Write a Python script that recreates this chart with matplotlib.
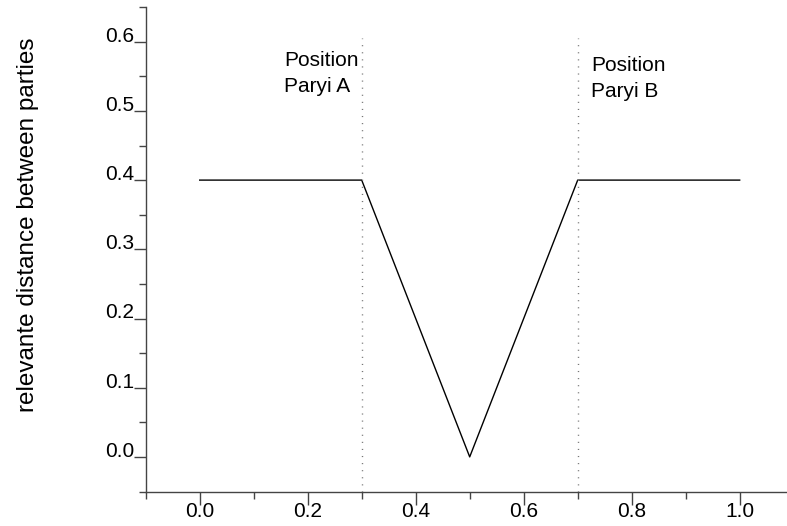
import matplotlib
matplotlib.use("Agg")
import matplotlib.pyplot as plt
import numpy as np

# data
x_pos = [0.0, 0.3, 0.5, 0.7, 1.0]
distance = [0.4, 0.4, 0.0, 0.4, 0.4]
party_x = [0.3, 0.7]
party_top = 0.605
party_labels = ["Position\nParyi A", "Position\nParyi B"]
x_ticks = [0.0, 0.2, 0.4, 0.6, 0.8, 1.0]
y_ticks = [0.0, 0.1, 0.2, 0.3, 0.4, 0.5, 0.6]

plt.rcParams["font.family"] = ["Liberation Sans", "DejaVu Sans"]

fig = plt.figure(figsize=(7.87, 5.26), dpi=100)
ax = fig.add_axes([145.7 / 787, 34.5 / 526, 648 / 787, 484.4 / 526])
ax.set_xlim(-0.1, 1.1)
ax.set_ylim(-0.05, 0.65)

spine_col = "#444444"
for side in ["top", "right"]:
    ax.spines[side].set_visible(False)
for side in ["left", "bottom"]:
    ax.spines[side].set_color(spine_col)
    ax.spines[side].set_linewidth(1.0)

ax.plot(x_pos, distance, color="black", lw=1.0)
ax.vlines(party_x, -0.05, party_top, colors="#777777", linestyles=(0, (0.8, 4.3)), lw=1.0)

ax.set_xticks(x_ticks)
ax.set_xticks(np.arange(-0.1, 1.11, 0.2), minor=True)
ax.set_xticklabels([f"{v:.1f}" for v in x_ticks])
ax.set_yticks(y_ticks)
ax.set_yticks(np.arange(-0.05, 0.651, 0.1), minor=True)
ax.set_yticklabels([f"{v:.1f}" for v in y_ticks])

ax.tick_params(which="both", direction="out", color=spine_col, width=1.0, labelsize=15)
ax.tick_params(which="major", length=9)
ax.tick_params(which="minor", length=5)
ax.tick_params(axis="x", which="major", pad=-1.5)
ax.tick_params(axis="y", which="major", pad=-0.5)
for lab in ax.get_yticklabels():
    lab.set_verticalalignment("baseline")

ax.text(0.294, 0.5864, party_labels[0], ha="right", va="top", ma="left",
        fontsize=15, linespacing=1.45)
ax.text(0.7248, 0.580, party_labels[1], ha="left", va="top", ma="left",
        fontsize=15, linespacing=1.5)

fig.text(28.5 / 787, 1 - 225 / 526, "relevante distance between parties",
         rotation=90, ha="center", va="center", fontsize=17.5)

fig.savefig("out.png", dpi=100)
